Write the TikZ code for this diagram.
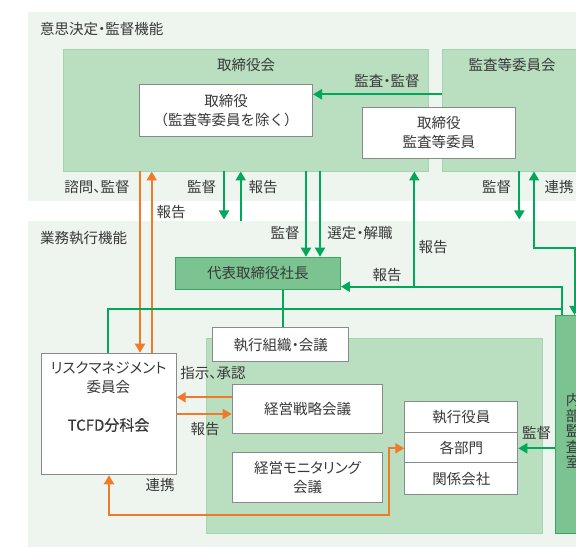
\documentclass[tikz,border=0pt]{standalone}
\usepackage{fontspec}
\setmainfont{Noto Sans CJK JP}
\newfontfamily\pfont[RawFeature=+palt]{Noto Sans CJK JP}
\newfontfamily\tcfdfont[FakeBold=0.5]{Noto Sans CJK JP}
\usetikzlibrary{arrows.meta}
\definecolor{bgl}{HTML}{EEF5EF}
\definecolor{midg}{HTML}{B9DEC0}
\definecolor{midgb}{HTML}{A3D4AE}
\definecolor{darkg}{HTML}{7BC491}
\definecolor{darkgb}{HTML}{36A860}
\definecolor{lineg}{HTML}{00A85A}
\definecolor{orng}{HTML}{EE7A2A}
\definecolor{txt}{HTML}{383838}
\definecolor{boxb}{HTML}{8A8A8A}
\begin{document}
\begin{tikzpicture}[x=1pt,y=-1pt,
  font=\fontsize{14.5}{19}\selectfont, text=txt,
  region/.style={fill=bgl, draw=none, inner sep=0pt, anchor=north west},
  panel/.style={fill=midg, draw=midgb, line width=0.8pt, inner sep=0pt, anchor=north west},
  darkbox/.style={fill=darkg, draw=darkgb, line width=0.9pt, inner sep=0pt, anchor=north west},
  wbox/.style={fill=white, draw=boxb, line width=1pt, inner sep=0pt, anchor=north west, align=center},
  gline/.style={draw=lineg, line width=2pt},
  garrow/.style={gline, -{Triangle[width=10pt,length=9pt]}},
  oline/.style={draw=orng, line width=2pt},
  oarrow/.style={oline, -{Triangle[width=10pt,length=9pt]}},
  lbl/.style={inner sep=0pt},
  plbl/.style={inner sep=0pt, font=\pfont\fontsize{14.5}{19}\selectfont},
]
\useasboundingbox (0,0) rectangle (576,548);
\clip (0,0) rectangle (576,548);

% regions
\node[region, minimum width=570pt, minimum height=188.7pt] (topreg) at (28,12) {};
\node[region, minimum width=570pt, minimum height=326pt] (botreg) at (28,221) {};
\node[plbl, anchor=west] (toplbl) at (40,29) {意思決定・監督機能};
\node[lbl, anchor=west] (botlbl) at (40,238) {業務執行機能};

% top panels
\node[panel, minimum width=364.7pt, minimum height=121.7pt] (brd) at (63,49) {};
\node[lbl] (brdlbl) at (246,65) {取締役会};
\node[panel, minimum width=150pt, minimum height=121.7pt] (kan) at (442,49) {};
\node[lbl] (kanlbl) at (512,65) {監査等委員会};
\node[wbox, minimum width=173pt, minimum height=52pt] (tb) at (139,84) {取締役\\（監査等委員を除く）};
\node[wbox, minimum width=153.3pt, minimum height=51.6pt] (ka) at (361.7,106.7) {取締役\\監査等委員};

% bottom
\node[darkbox, minimum width=165pt, minimum height=32.6pt] (ceo) at (175,256.7) {代表取締役社長};
\node[panel, minimum width=336.6pt, minimum height=195pt] (expanel) at (205.7,337.7) {};
\node[wbox, minimum width=136pt, minimum height=33.7pt, font=\pfont\fontsize{14.5}{19}\selectfont] (exec) at (212.3,327.3) {執行組織・会議};
\node[wbox, minimum width=150.6pt, minimum height=49.3pt] (sen) at (231.7,384) {経営戦略会議};
\node[wbox, minimum width=150.6pt, minimum height=50pt, font=\pfont\fontsize{14.5}{19}\selectfont] (mon) at (231.7,452.3) {経営モニタリング\\会議};
\node[wbox, minimum width=113pt, minimum height=31pt] (yaku) at (404.3,400.7) {執行役員};
\node[wbox, minimum width=113pt, minimum height=30.6pt] (dept) at (404.3,431.7) {各部門};
\node[wbox, minimum width=113pt, minimum height=32pt] (kan2) at (404.3,462.3) {関係会社};
\node[wbox, minimum width=134.4pt, minimum height=121.6pt] (risk) at (41.3,352.7) {};
\node[lbl, align=center, font=\pfont\fontsize{14.5}{18.5}\selectfont] (risklbl) at (108.5,377.5) {リスクマネジメント\\委員会};
\node[lbl, font=\tcfdfont\fontsize{15}{18}\selectfont] (tcfd) at (108.5,425) {TCFD分科会};
\node[darkbox, minimum width=40pt, minimum height=217.7pt] (audit) at (555,315) {};
\node[lbl, align=center, font=\fontsize{14.5}{15.5}\selectfont] (auditlbl) at (573,431) {内\\部\\監\\査\\室};

% connectors top
\draw[garrow] (kan.west |- 0,94.3) -- (tb.east |- 0,94.3);
\draw[oarrow] (brd.south -| 140,0) -- (risk.north -| 140,0);
\draw[oarrow] (risk.north -| 151.7,0) -- (brd.south -| 151.7,0);
\draw[garrow] (brd.south -| 224,0) -- (224,219.5);
\draw[garrow] (240.7,221.5) -- (brd.south -| 240.7,0);
\draw[garrow] (brd.south -| 306,0) -- (ceo.north -| 306,0);
\draw[garrow] (brd.south -| 320,0) -- (ceo.north -| 320,0);
\draw[garrow] (kan.south -| 519.3,0) -- (519.3,219.5);
\draw[gline, {Triangle[width=10pt,length=9pt]}-{Triangle[width=10pt,length=9pt]}]
  (kan.south -| 534,0) -- (534,248.3) -- (574.5,248.3) -- (audit.north -| 574.5,0);
% report lines
\draw[garrow] (audit.north -| 561.7,0) -- (561.7,286.7) -- (ceo.east |- 0,286.7);
\draw[garrow] (414.3,286.7) -- (brd.south -| 414.3,0);
\draw[gline] (risk.north -| 108,0) -- (108,309.3) -- (561.7,309.3);
\draw[gline] (ceo.south -| 282.7,0) -- (exec.north -| 282.7,0);
% audit to dept
\draw[garrow] (audit.west |- 0,448.3) -- (dept.east |- 0,448.3);
% orange bottom
\draw[oarrow] (sen.west |- 0,397.3) -- (risk.east |- 0,397.3);
\draw[oarrow] (risk.east |- 0,414) -- (sen.west |- 0,414);
\draw[oline, {Triangle[width=10pt,length=9pt]}-{Triangle[width=10pt,length=9pt]}]
  (risk.south -| 109,0) -- (109,515) -- (389,515) -- (389,448.3) -- (dept.west |- 0,448.3);

% labels
\node[plbl] (l1) at (387,80.7) {監査・監督};
\node[plbl] (l2) at (97,187) {諮問、監督};
\node[lbl] (l3) at (171,212) {報告};
\node[lbl] (l4) at (201.7,187) {監督};
\node[lbl] (l5) at (263,187) {報告};
\node[lbl] (l6) at (285,233) {監督};
\node[plbl] (l7) at (360,233) {選定・解職};
\node[lbl] (l8) at (433,246.7) {報告};
\node[lbl] (l9) at (387,275) {報告};
\node[lbl] (l10) at (496.7,187) {監督};
\node[lbl] (l11) at (559,187) {連携};
\node[plbl] (l12) at (213,372.7) {指示、承認};
\node[lbl] (l13) at (205,429.3) {報告};
\node[lbl] (l14) at (160,485) {連携};
\node[lbl] (l15) at (536.7,433.3) {監督};
\end{tikzpicture}
\end{document}
